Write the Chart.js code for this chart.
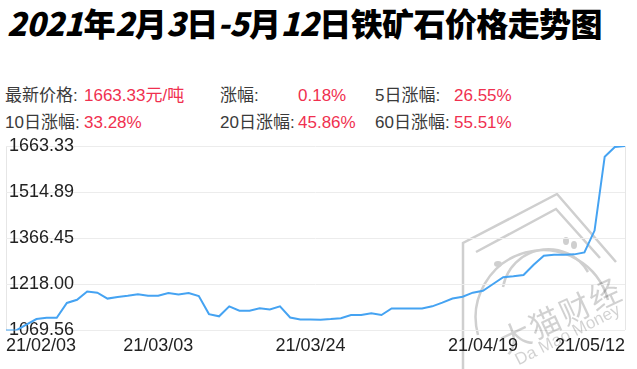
<!DOCTYPE html>
<html>
<head>
<meta charset="utf-8">
<script src="https://cdn.jsdelivr.net/npm/chart.js@4"></script>
<style>
  body { margin: 0; background: #fff; }
  #wrap { position: relative; width: 637px; height: 369px; overflow: hidden; font-family: "Liberation Sans", "Noto Sans CJK SC", sans-serif; }
  #title { position: absolute; left: 7px; top: 5px; font: 900 32px "Noto Sans CJK SC", sans-serif; line-height: 34px; color: #000; letter-spacing: -0.6px; white-space: nowrap; }
  #title i { font-style: italic; margin-right: 1px; }
  .s { position: absolute; font-size: 17px; line-height: 20px; color: #3a3a3a; white-space: nowrap; }
  .v { color: #f0304f; }
  .wm { position: absolute; color: rgba(0,0,0,0.18); white-space: nowrap; transform-origin: center; }
  #logo { position: absolute; left: 0; top: 0; }
  canvas { position: absolute; left: 0; top: 0; }
</style>
</head>
<body>
<div id="wrap">
  <div id="title"><i>2021</i>年<i>2</i>月<i>3</i>日<i>-5</i>月<i>12</i>日铁矿石价格走势图</div>

  <span class="s" style="left:5px;top:86px">最新价格:</span><span class="s v" style="left:84px;top:86px">1663.33元/吨</span>
  <span class="s" style="left:220px;top:86px">涨幅:</span><span class="s v" style="left:298px;top:86px">0.18%</span>
  <span class="s" style="left:375px;top:86px">5日涨幅:</span><span class="s v" style="left:454px;top:86px">26.55%</span>
  <span class="s" style="left:5px;top:113px">10日涨幅:</span><span class="s v" style="left:84px;top:113px">33.28%</span>
  <span class="s" style="left:220px;top:113px">20日涨幅:</span><span class="s v" style="left:298px;top:113px">45.86%</span>
  <span class="s" style="left:375px;top:113px">60日涨幅:</span><span class="s v" style="left:454px;top:113px">55.51%</span>

  <svg id="logo" width="637" height="369" fill="none" stroke="#cfcfcf" stroke-width="2.5">
    <polyline points="463,420 463,243 557,194 616,262" />
    <polyline points="476,252 556,209 600,258" />
    <path d="M478 335 A66 66 0 1 1 608 300" />
    <path d="M503 287 A46 46 0 0 1 588 272" />
    <ellipse cx="498" cy="264" rx="4" ry="3" fill="#cfcfcf" stroke="none" />
    <ellipse cx="566" cy="241" rx="3" ry="4" fill="#cfcfcf" stroke="none" />
    <ellipse cx="574" cy="245" rx="3" ry="4" fill="#cfcfcf" stroke="none" />
  </svg>

  <canvas id="chart" width="637" height="369"></canvas>

  <span class="wm" style="left:494px;top:291px;font:31px 'Noto Sans CJK SC';letter-spacing:2px;transform:rotate(-25deg)">大猫财经</span>
  <span class="wm" style="left:510px;top:325px;font:17px 'Liberation Sans';transform:rotate(-27deg)">Da Mao Money</span>
</div>

<script>
// trading days 2021-02-03 .. 2021-05-12
const dates = [
  "21/02/03", "21/02/04", "21/02/05", "21/02/08", "21/02/09", "21/02/10",
  "21/02/18", "21/02/19", "21/02/22", "21/02/23", "21/02/24", "21/02/25", "21/02/26",
  "21/03/01", "21/03/02", "21/03/03", "21/03/04", "21/03/05",
  "21/03/08", "21/03/09", "21/03/10", "21/03/11", "21/03/12",
  "21/03/15", "21/03/16", "21/03/17", "21/03/18", "21/03/19",
  "21/03/22", "21/03/23", "21/03/24", "21/03/25", "21/03/26",
  "21/03/29", "21/03/30", "21/03/31", "21/04/01", "21/04/02",
  "21/04/06", "21/04/07", "21/04/08", "21/04/09",
  "21/04/12", "21/04/13", "21/04/14", "21/04/15", "21/04/16",
  "21/04/19", "21/04/20", "21/04/21", "21/04/22", "21/04/23",
  "21/04/26", "21/04/27", "21/04/28", "21/04/29", "21/04/30",
  "21/05/06", "21/05/07", "21/05/10", "21/05/11", "21/05/12"
];

// price, yuan/ton
const prices = [
  1069.56, 1069.60, 1088, 1106, 1110, 1110,
  1158, 1168, 1195, 1191, 1172, 1177, 1181,
  1186, 1181, 1181, 1190, 1185,
  1190, 1180, 1122, 1115, 1147,
  1133, 1133, 1141, 1137, 1147,
  1111, 1105, 1105, 1104, 1106,
  1109, 1119, 1119, 1125, 1119,
  1140, 1140, 1140, 1140.3,
  1147, 1159, 1172, 1178, 1191,
  1197, 1219, 1241, 1244, 1248.0,
  1281, 1310, 1313, 1313, 1314.4,
  1320.6, 1391, 1629, 1660.34, 1663.33
];

const yTicks = [1069.56, 1218.00, 1366.45, 1514.89, 1663.33];
const xTickLabels = ["21/02/03", "21/03/03", "21/03/24", "21/04/19", "21/05/12"];

Chart.defaults.font.family = '"Liberation Sans", Arial, sans-serif';

new Chart(document.getElementById("chart"), {
  type: "line",
  data: {
    labels: dates,
    datasets: [
      {
        data: prices,
        borderColor: "#45a3f2",
        borderWidth: 2,
        pointRadius: 0,
        tension: 0,
        fill: false,
      },
    ],
  },
  options: {
    responsive: false,
    animation: false,
    layout: { padding: { left: 0, right: 12, top: 146, bottom: 7 } },
    plugins: { legend: { display: false }, tooltip: { enabled: false } },
    scales: {
      x: {
        grid: {
          drawTicks: false,
          color: (ctx) => (ctx.index === 0 || ctx.index === dates.length - 1 ? "#e6e6e6" : "transparent"),
        },
        border: { display: false },
        ticks: {
          autoSkip: false,
          maxRotation: 0,
          align: "inner",
          padding: 5,
          color: "#222",
          font: { size: 18 },
          callback: function (v, i) {
            const l = dates[i];
            return xTickLabels.includes(l) ? l : "";
          },
        },
      },
      y: {
        min: yTicks[0],
        max: yTicks[yTicks.length - 1],
        afterBuildTicks: (scale) => {
          scale.ticks = yTicks.map((v) => ({ value: v }));
        },
        grid: { drawTicks: false, color: "#ececec" },
        border: { display: false },
        ticks: {
          mirror: true,
          padding: 3,
          color: "#222",
          font: { size: 18 },
          callback: (v) => Number(v).toFixed(2),
        },
      },
    },
  },
});
</script>
</body>
</html>
